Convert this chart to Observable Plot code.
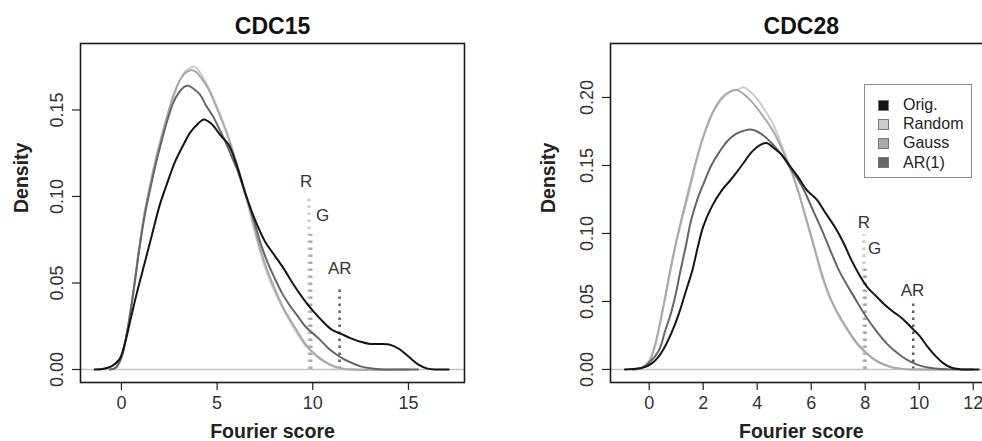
<!DOCTYPE html>
<html>
<head>
<meta charset="utf-8">
<script src="https://cdn.jsdelivr.net/npm/d3@7"></script>
<script src="https://cdn.jsdelivr.net/npm/@observablehq/plot@0.6"></script>
<style>
  html, body { margin: 0; padding: 0; background: #fff; }
  #wrap { position: relative; width: 982px; height: 441px; overflow: hidden; background: #fff;
          font-family: 'Liberation Sans', Arial, Helvetica, sans-serif; }
  .panel { position: absolute; top: 0; }
  #legend { position: absolute; left: 864px; top: 84px; width: 108px; height: 94px;
            border: 1.5px solid #8a8a8a; box-sizing: border-box; background: #fff; }
  #legend .row { position: absolute; left: 0; height: 19px; display: flex; align-items: center;
                 font-size: 16px; color: #222; white-space: nowrap; }
  #legend .sw { width: 11px; height: 11px; margin-left: 13px; margin-right: 14px; box-sizing: border-box;
                border: 1px solid #777; }
</style>
</head>
<body>
<div id="wrap"></div>
<script>
// ---------------- data ----------------
const seriesNames = ["Orig.", "Random", "Gauss", "AR(1)"];

// CDC15 density curves, [Fourier score, density]
const cdc15Orig = [[-1.4,0],[-1.0,0.0003],[-0.5,0.002],[-0.1,0.006],[0.2,0.016],[0.5,0.030],[0.8,0.044],[1.2,0.061],[1.6,0.078],[2.0,0.095],[2.4,0.108],[2.8,0.120],[3.2,0.129],[3.6,0.137],[4.0,0.142],[4.3,0.1445],[4.7,0.142],[5.2,0.135],[5.6,0.130],[6.0,0.119],[6.5,0.101],[7.0,0.086],[7.5,0.074],[8.0,0.066],[8.5,0.058],[9.0,0.049],[9.5,0.041],[10.0,0.034],[10.5,0.028],[11.0,0.023],[11.5,0.0205],[12.0,0.018],[12.5,0.016],[13.0,0.0148],[13.5,0.0148],[14.0,0.0145],[14.5,0.012],[15.0,0.0075],[15.5,0.003],[16.0,0.0005],[16.5,0],[17.1,0]];
const cdc15Random = [[-0.6,0],[-0.3,0.001],[0.0,0.007],[0.3,0.021],[0.6,0.042],[0.9,0.068],[1.2,0.090],[1.5,0.106],[1.8,0.121],[2.1,0.134],[2.4,0.146],[2.7,0.157],[3.0,0.166],[3.3,0.172],[3.5,0.1735],[3.7,0.175],[3.9,0.1745],[4.2,0.170],[4.5,0.164],[4.8,0.157],[5.1,0.149],[5.5,0.137],[5.8,0.127],[6.1,0.116],[6.4,0.104],[6.7,0.091],[7.0,0.078],[7.3,0.066],[7.6,0.056],[8.0,0.045],[8.4,0.036],[8.8,0.028],[9.2,0.0205],[9.6,0.014],[10.0,0.0095],[10.4,0.0058],[10.8,0.0032],[11.2,0.0012],[11.6,0.0003],[12.0,0],[15.0,0]];
const cdc15Gauss = [[-0.6,0],[-0.3,0.001],[0.0,0.007],[0.3,0.022],[0.6,0.043],[0.9,0.068],[1.2,0.090],[1.5,0.107],[1.8,0.122],[2.1,0.135],[2.4,0.147],[2.7,0.158],[3.0,0.166],[3.3,0.171],[3.6,0.173],[3.9,0.172],[4.2,0.168],[4.5,0.163],[4.8,0.156],[5.1,0.148],[5.5,0.137],[5.8,0.127],[6.1,0.116],[6.4,0.105],[6.7,0.093],[7.0,0.080],[7.3,0.068],[7.6,0.058],[8.0,0.047],[8.4,0.037],[8.8,0.029],[9.2,0.022],[9.6,0.015],[10.0,0.010],[10.4,0.0063],[10.8,0.0035],[11.2,0.0015],[11.6,0.0004],[12.0,0],[15.0,0]];
const cdc15AR = [[-0.6,0],[-0.3,0.001],[0.0,0.007],[0.3,0.022],[0.6,0.043],[0.9,0.067],[1.2,0.088],[1.5,0.104],[1.8,0.119],[2.1,0.132],[2.4,0.144],[2.7,0.154],[3.0,0.160],[3.3,0.1635],[3.5,0.164],[3.8,0.162],[4.1,0.159],[4.4,0.153],[4.8,0.146],[5.2,0.137],[5.5,0.130],[5.8,0.122],[6.1,0.114],[6.4,0.104],[6.7,0.094],[7.0,0.083],[7.3,0.072],[7.6,0.063],[8.0,0.053],[8.4,0.044],[8.8,0.037],[9.2,0.031],[9.6,0.025],[10.0,0.021],[10.4,0.017],[10.8,0.0125],[11.2,0.009],[11.6,0.0062],[12.0,0.004],[12.5,0.0018],[13.0,0.0007],[13.5,0.0002],[14.0,0],[15.5,0]];

// CDC28 density curves
const cdc28Orig = [[-0.9,0],[-0.5,0.0005],[-0.2,0.0015],[0.1,0.0045],[0.35,0.0095],[0.6,0.0175],[0.85,0.028],[1.1,0.041],[1.35,0.057],[1.6,0.073],[1.8,0.090],[2.0,0.105],[2.3,0.119],[2.7,0.132],[3.0,0.139],[3.2,0.144],[3.5,0.152],[3.8,0.160],[4.1,0.165],[4.35,0.1665],[4.6,0.163],[4.9,0.158],[5.2,0.150],[5.5,0.142],[5.85,0.1316],[6.2,0.125],[6.5,0.116],[6.9,0.104],[7.2,0.093],[7.5,0.080],[7.8,0.069],[8.1,0.060],[8.4,0.054],[8.7,0.048],[9.0,0.043],[9.4,0.037],[9.7,0.031],[10.0,0.025],[10.3,0.017],[10.6,0.010],[10.9,0.0045],[11.2,0.0012],[11.5,0.0002],[12.2,0]];
const cdc28Random = [[-0.6,0],[-0.3,0.001],[0.0,0.006],[0.2,0.016],[0.5,0.043],[0.8,0.074],[1.0,0.093],[1.2,0.109],[1.5,0.132],[1.8,0.157],[2.1,0.176],[2.4,0.190],[2.7,0.199],[3.0,0.204],[3.3,0.206],[3.5,0.2076],[3.7,0.205],[4.0,0.199],[4.3,0.190],[4.6,0.180],[4.9,0.165],[5.2,0.150],[5.5,0.133],[5.8,0.111],[6.1,0.090],[6.4,0.068],[6.7,0.052],[7.0,0.040],[7.3,0.030],[7.6,0.021],[7.9,0.014],[8.2,0.009],[8.5,0.005],[8.9,0.002],[9.3,0.0005],[9.8,0],[11.0,0]];
const cdc28Gauss = [[-0.6,0],[-0.3,0.001],[0.0,0.006],[0.2,0.017],[0.5,0.044],[0.8,0.075],[1.0,0.094],[1.2,0.111],[1.5,0.135],[1.8,0.158],[2.1,0.177],[2.4,0.191],[2.7,0.200],[3.0,0.2045],[3.2,0.2056],[3.4,0.204],[3.7,0.199],[4.0,0.192],[4.3,0.184],[4.6,0.175],[4.9,0.163],[5.2,0.149],[5.5,0.132],[5.8,0.112],[6.1,0.091],[6.4,0.070],[6.7,0.053],[7.0,0.041],[7.3,0.031],[7.6,0.022],[7.9,0.015],[8.2,0.0095],[8.5,0.0055],[8.9,0.0022],[9.3,0.0006],[9.8,0],[11.0,0]];
const cdc28AR = [[-0.6,0],[-0.3,0.001],[0.0,0.005],[0.36,0.014],[0.6,0.029],[0.8,0.041],[1.0,0.057],[1.16,0.0728],[1.35,0.090],[1.55,0.1096],[1.8,0.126],[2.0,0.136],[2.3,0.150],[2.6,0.160],[2.9,0.168],[3.2,0.173],[3.5,0.1755],[3.75,0.1765],[4.0,0.175],[4.3,0.171],[4.6,0.165],[4.9,0.158],[5.2,0.149],[5.5,0.140],[5.75,0.131],[6.0,0.120],[6.35,0.1046],[6.7,0.088],[7.0,0.074],[7.3,0.063],[7.6,0.053],[7.9,0.043],[8.2,0.034],[8.5,0.026],[8.8,0.019],[9.1,0.0135],[9.4,0.009],[9.7,0.0055],[10.0,0.003],[10.4,0.0013],[10.8,0.0004],[11.2,0],[12.0,0]];

// threshold markers: [name, x, top of line]
const cdc15Markers = [["R", 9.8, 0.100], ["G", 9.9, 0.078], ["AR", 11.4, 0.047]];
const cdc28Markers = [["R", 7.95, 0.099], ["G", 8.0, 0.077], ["AR", 9.78, 0.0495]];
// marker labels: [text, x, y]
const cdc15MarkerLabels = [["R", 9.65, 0.1087], ["G", 10.52, 0.089], ["AR", 11.41, 0.0584]];
const cdc28MarkerLabels = [["R", 7.95, 0.108], ["G", 8.35, 0.089], ["AR", 9.75, 0.058]];

// ticks
const cdc15XTicks = [0, 5, 10, 15];
const cdc15YTicks = [0, 0.05, 0.10, 0.15];
const cdc28XTicks = [0, 2, 4, 6, 8, 10, 12];
const cdc28YTicks = [0, 0.05, 0.10, 0.15, 0.20];
const yTickFormat = d3.format(".2f");

// ---------------- styles ----------------
const FONT = "'Liberation Sans', Arial, Helvetica, sans-serif";
const seriesColors = {"Orig.": "#141414", "Random": "#cdcdcd", "Gauss": "#a9a9a9", "AR(1)": "#666666"};
const markerColors = {"R": "#cdcdcd", "G": "#a9a9a9", "AR": "#5e5e5e"};
const drawOrder = ["Random", "Gauss", "AR(1)", "Orig."];

function panel(cfg) {
  const {title, xDomain, yDomain, xTicks, yTicks, curves, markers, labels,
         width, height, marginLeft, marginRight, marginTop, marginBottom, yLabelDx} = cfg;
  const frameH = height - marginTop - marginBottom;
  const tickLenY = (yDomain[1] - yDomain[0]) / frameH * 8;
  const frameW = width - marginLeft - marginRight;
  const tickLenX = (xDomain[1] - xDomain[0]) / frameW * 8;
  const marks = [];
  marks.push(Plot.ruleY([0], {stroke: "#c4c4c4", strokeWidth: 1.5}));
  for (const m of markers) {
    marks.push(Plot.ruleX([m], {x: d => d[1], y1: 0, y2: d => d[2],
      stroke: markerColors[m[0]], strokeWidth: m[0] === "AR" ? 2.5 : 3.2,
      strokeDasharray: "2.5,4.5"}));
  }
  for (const name of drawOrder) {
    marks.push(Plot.line(curves[name], {x: d => d[0], y: d => d[1],
      stroke: seriesColors[name], strokeWidth: 2, curve: "catmull-rom"}));
  }
  marks.push(Plot.text(labels, {x: d => d[1], y: d => d[2], text: d => d[0],
    fontSize: 17, fill: "#333", lineAnchor: "middle"}));
  marks.push(Plot.frame({stroke: "#1a1a1a", strokeWidth: 1.6}));
  marks.push(Plot.ruleX(xTicks, {x: d => d, y1: yDomain[0], y2: yDomain[0] - tickLenY, stroke: "#222", strokeWidth: 1.2}));
  marks.push(Plot.ruleY(yTicks, {y: d => d, x1: xDomain[0], x2: xDomain[0] - tickLenX, stroke: "#222", strokeWidth: 1.2}));
  marks.push(Plot.text(xTicks, {x: d => d, y: () => yDomain[0], text: d => String(d),
    lineAnchor: "top", dy: 14, fontSize: 18, fill: "#333"}));
  marks.push(Plot.text(yTicks, {x: () => xDomain[0], y: d => d, text: d => yTickFormat(d),
    rotate: -90, lineAnchor: "bottom", textAnchor: "middle", dx: -18, fontSize: 18, fill: "#333"}));
  marks.push(Plot.text([title], {frameAnchor: "top", lineAnchor: "bottom", dy: -10,
    text: d => d, fontSize: 23, fontWeight: "bold", fill: "#111"}));
  marks.push(Plot.text(["Fourier score"], {frameAnchor: "bottom", lineAnchor: "bottom", dy: 55,
    text: d => d, fontSize: 19.5, fontWeight: "bold", fill: "#222"}));
  marks.push(Plot.text(["Density"], {frameAnchor: "left", lineAnchor: "bottom", rotate: -90, dx: yLabelDx,
    text: d => d, fontSize: 19.5, fontWeight: "bold", fill: "#222"}));
  return Plot.plot({
    width, height, marginLeft, marginRight, marginTop, marginBottom,
    x: {domain: xDomain, axis: null},
    y: {domain: yDomain, axis: null},
    style: {fontFamily: FONT, background: "transparent", overflow: "visible"},
    marks
  });
}

const wrap = document.getElementById("wrap");

const left = panel({
  title: "CDC15",
  xDomain: [-2.14, 17.93], yDomain: [-0.0075, 0.1884],
  xTicks: cdc15XTicks, yTicks: cdc15YTicks,
  curves: {"Orig.": cdc15Orig, "Random": cdc15Random, "Gauss": cdc15Gauss, "AR(1)": cdc15AR},
  markers: cdc15Markers, labels: cdc15MarkerLabels,
  width: 491, height: 441, marginLeft: 80, marginRight: 27, marginTop: 43, marginBottom: 59,
  yLabelDx: -53
});
left.classList.add("panel");
left.style.left = "0px";
wrap.appendChild(left);

const right = panel({
  title: "CDC28",
  xDomain: [-1.433, 12.70], yDomain: [-0.0096, 0.2397],
  xTicks: cdc28XTicks, yTicks: cdc28YTicks,
  curves: {"Orig.": cdc28Orig, "Random": cdc28Random, "Gauss": cdc28Gauss, "AR(1)": cdc28AR},
  markers: cdc28Markers, labels: cdc28MarkerLabels,
  width: 510, height: 441, marginLeft: 119, marginRight: 9.4, marginTop: 43, marginBottom: 59,
  yLabelDx: -55.5
});
right.classList.add("panel");
right.style.left = "491px";
wrap.appendChild(right);

// legend
const legend = document.createElement("div");
legend.id = "legend";
seriesNames.forEach((name, i) => {
  const row = document.createElement("div");
  row.className = "row";
  row.style.top = (10.5 + i * 19.2) + "px";
  const sw = document.createElement("span");
  sw.className = "sw";
  sw.style.background = seriesColors[name];
  const label = document.createElement("span");
  label.textContent = name;
  row.appendChild(sw);
  row.appendChild(label);
  legend.appendChild(row);
});
wrap.appendChild(legend);
</script>
</body>
</html>
